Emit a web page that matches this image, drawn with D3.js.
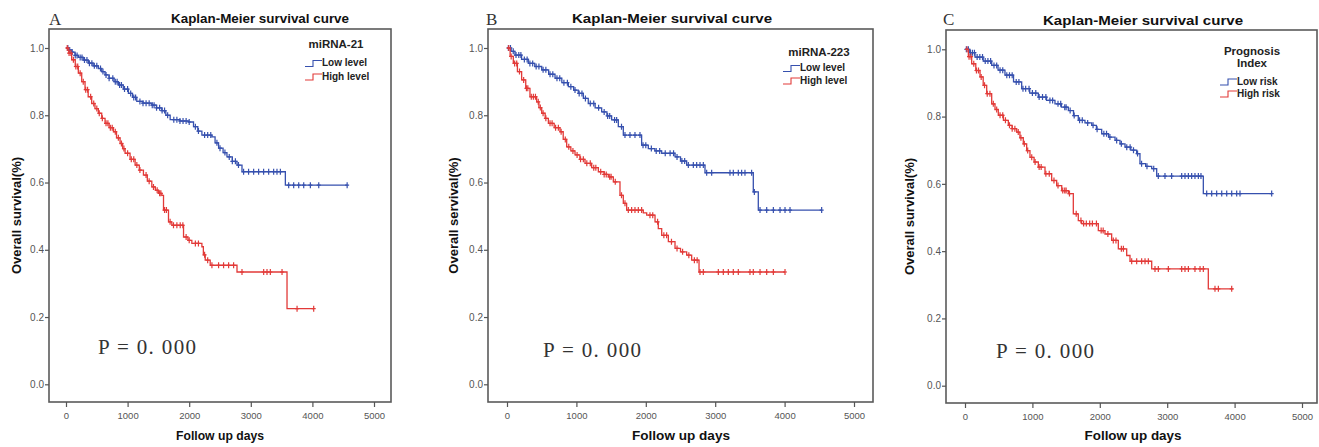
<!DOCTYPE html>
<html>
<head>
<meta charset="utf-8">
<script src="https://cdn.jsdelivr.net/npm/d3@7"></script>
<style>
  body { margin: 0; background: #fff; }
  text { font-family: "Liberation Sans", Arial, sans-serif; }
</style>
</head>
<body>
<div id="chart"></div>
<script>
// tick values shared by the three plots
const xTicks = [0, 1000, 2000, 3000, 4000, 5000];
const yTicks = [0, 0.2, 0.4, 0.6, 0.8, 1.0];

const panelLetters = ["A", "B", "C"];
const plotTitles = ["Kaplan-Meier survival curve", "Kaplan-Meier survival curve", "Kaplan-Meier survival curve"];
const legendTitles = [["miRNA-21"], ["miRNA-223"], ["Prognosis", "Index"]];
const groupNames = [["Low level", "High level"], ["Low level", "High level"], ["Low risk", "High risk"]];
const yTitles = ["Overall survival(%)", "Overall servival(%)", "Overall survival(%)"];
const xTitles = ["Follow up days", "Follow up days", "Follow up days"];
const pTexts = ["P = 0. 000", "P = 0. 000", "P = 0. 000"];

// Kaplan-Meier steps, [day, survival]
const lowA = [[0,1],[40,0.994],[90,0.988],[146,0.978],[200,0.972],[280,0.964],[363,0.955],[440,0.947],[525,0.939],[580,0.93],[634,0.92],[700,0.91],[780,0.9],[850,0.89],[930,0.878],[1013,0.865],[1080,0.853],[1149,0.841],[1250,0.836],[1393,0.83],[1470,0.822],[1556,0.814],[1620,0.8],[1691,0.787],[1850,0.783],[1989,0.78],[2070,0.766],[2140,0.753],[2206,0.741],[2369,0.736],[2420,0.718],[2477,0.702],[2550,0.689],[2613,0.676],[2700,0.663],[2776,0.652],[2857,0.632],[3561,0.592],[4564,0.592]];
const highA = [[0,1],[45,0.985],[92,0.965],[150,0.945],[200,0.925],[255,0.9],[309,0.876],[360,0.855],[417,0.835],[470,0.82],[525,0.806],[580,0.791],[634,0.776],[700,0.763],[770,0.751],[820,0.733],[878,0.716],[920,0.701],[959,0.687],[1040,0.669],[1122,0.652],[1190,0.637],[1257,0.622],[1320,0.604],[1393,0.587],[1450,0.577],[1501,0.568],[1556,0.562],[1583,0.518],[1664,0.483],[1718,0.473],[1908,0.438],[1980,0.428],[2043,0.419],[2206,0.409],[2230,0.385],[2260,0.369],[2341,0.354],[2776,0.334],[3588,0.225],[4021,0.225]];
const lowB = [[0,1],[60,0.99],[115,0.979],[210,0.966],[307,0.954],[400,0.945],[500,0.935],[600,0.922],[692,0.91],[790,0.897],[884,0.885],[960,0.875],[1027,0.865],[1100,0.85],[1171,0.835],[1270,0.822],[1364,0.81],[1440,0.798],[1508,0.786],[1604,0.766],[1676,0.741],[1940,0.711],[2036,0.701],[2130,0.694],[2229,0.687],[2421,0.676],[2500,0.664],[2589,0.652],[2853,0.629],[3549,0.572],[3621,0.518],[4534,0.518]];
const highB = [[0,1],[45,0.975],[91,0.954],[150,0.93],[211,0.905],[270,0.88],[331,0.855],[427,0.84],[460,0.823],[500,0.806],[550,0.791],[596,0.776],[680,0.763],[764,0.751],[810,0.728],[860,0.706],[920,0.694],[980,0.682],[1050,0.669],[1124,0.657],[1220,0.644],[1316,0.632],[1400,0.624],[1460,0.617],[1532,0.602],[1628,0.562],[1676,0.538],[1724,0.518],[1964,0.51],[2013,0.503],[2133,0.483],[2180,0.463],[2229,0.443],[2325,0.424],[2421,0.404],[2500,0.394],[2589,0.384],[2661,0.369],[2767,0.334],[4006,0.334]];
const lowC = [[0,1],[70,0.99],[148,0.977],[270,0.965],[396,0.952],[490,0.938],[593,0.923],[720,0.903],[841,0.883],[960,0.87],[1088,0.858],[1210,0.848],[1335,0.838],[1430,0.828],[1533,0.818],[1610,0.803],[1681,0.789],[1780,0.781],[1880,0.774],[1950,0.762],[2028,0.749],[2130,0.739],[2226,0.729],[2300,0.719],[2374,0.709],[2460,0.7],[2547,0.69],[2596,0.66],[2680,0.652],[2770,0.645],[2844,0.623],[3536,0.571],[4550,0.571]];
const highC = [[0,1],[50,0.978],[99,0.957],[160,0.937],[223,0.918],[270,0.893],[322,0.868],[396,0.838],[445,0.821],[494,0.804],[570,0.789],[643,0.774],[700,0.764],[767,0.754],[815,0.737],[865,0.719],[915,0.699],[964,0.679],[1025,0.665],[1088,0.65],[1187,0.63],[1286,0.61],[1360,0.595],[1435,0.58],[1533,0.571],[1607,0.511],[1681,0.491],[1730,0.482],[1978,0.461],[2077,0.451],[2176,0.432],[2275,0.407],[2399,0.387],[2448,0.37],[2770,0.347],[3610,0.288],[3981,0.288]];

// censored days
const censLowA = [30,60,100,150,180,230,260,300,340,380,420,460,500,560,600,650,700,760,800,830,870,900,950,1000,1050,1100,1130,1200,1250,1300,1350,1400,1430,1470,1520,1560,1600,1650,1750,1800,1850,1900,1950,2000,2100,2150,2250,2300,2350,2450,2500,2580,2650,2700,2750,2800,2883,2964,3046,3127,3208,3290,3371,3425,3480,3615,3696,3778,3859,3967,4103,4564];
const censHighA = [20,50,80,120,160,190,230,280,320,350,400,450,500,540,590,650,680,720,750,800,850,900,940,1000,1060,1100,1150,1200,1300,1350,1420,1480,1520,1540,1600,1630,1690,1745,1800,1854,1897,1950,2000,2100,2150,2250,2300,2369,2477,2558,2640,2721,2857,3209,3263,3317,3507,3751,4021];
const censLowB = [20,50,90,130,170,200,250,290,330,370,420,460,520,560,620,660,720,760,820,870,920,980,1040,1080,1130,1200,1250,1320,1400,1450,1480,1550,1580,1650,1700,1772,1844,1916,1960,2000,2080,2150,2200,2280,2350,2400,2450,2520,2560,2613,2685,2733,2781,2829,2877,2949,3213,3261,3333,3381,3429,3525,3564,3646,3742,3838,3934,4006,4078,4534];
const censHighB = [25,60,110,140,180,240,280,300,350,380,410,450,480,520,560,620,650,700,740,780,840,890,950,1010,1060,1100,1150,1200,1250,1280,1350,1400,1430,1480,1500,1560,1650,1700,1748,1796,1844,1892,1940,2060,2100,2170,2260,2300,2370,2450,2530,2620,2700,2740,2781,2829,3045,3117,3189,3261,3333,3501,3549,3646,3742,3838,4006];
const censLowC = [20,50,80,110,140,180,220,260,300,340,380,430,470,520,560,620,660,700,760,800,860,900,950,1000,1050,1100,1150,1200,1260,1300,1380,1420,1480,1500,1560,1620,1700,1740,1820,1900,1960,2060,2100,2150,2250,2320,2400,2450,2500,2560,2620,2700,2800,2868,2967,3066,3215,3264,3314,3363,3412,3462,3501,3586,3660,3734,3809,3883,3957,4031,4080,4550];
const censHighC = [30,60,90,130,170,200,240,290,330,370,420,470,520,560,600,660,700,740,790,830,880,930,990,1040,1100,1130,1200,1250,1320,1380,1450,1480,1500,1550,1650,1720,1760,1800,1850,1890,1950,2020,2050,2120,2200,2240,2320,2350,2473,2547,2621,2671,2720,2819,2868,3017,3215,3264,3314,3412,3487,3536,3709,3759,3957];

const lowSteps = [lowA, lowB, lowC];
const highSteps = [highA, highB, highC];
const lowCens = [censLowA, censLowB, censLowC];
const highCens = [censHighA, censHighB, censHighC];

const colors = ["#3650ae", "#e23a38"];

// where each plot sits on the page
const layout = [
  { frame: [49, 29, 391, 402], xr: [66, 374], yr: [384.3, 48], letterX: 49, titleX: 260, titleW: 178, titleY: 23,
    yTitleX: 17.5, xTitleX: 220, xTitleW: 88, legTitleX: 336, legTitleY: [48], iconX: 305, itemY: [63.5, 77],
    pX: 98, pY: 354 },
  { frame: [488, 29, 873, 402], xr: [507, 854], yr: [384.3, 48], letterX: 486, titleX: 672, titleW: 200, titleY: 23,
    yTitleX: 455, xTitleX: 681, xTitleW: 98, legTitleX: 819, legTitleY: [56], iconX: 783, itemY: [68.5, 81],
    pX: 543, pY: 357 },
  { frame: [946, 30, 1317, 403], xr: [965, 1302], yr: [385.7, 49.3], letterX: 943, titleX: 1143, titleW: 200, titleY: 24.5,
    yTitleX: 911, xTitleX: 1133, xTitleW: 97, legTitleX: 1252, legTitleY: [55, 66.5], iconX: 1220, itemY: [82, 94],
    pX: 996, pY: 358 }
];

const svg = d3.select("#chart").append("svg")
  .attr("width", 1319)
  .attr("height", 447);

layout.forEach((L, i) => {
  const g = svg.append("g");
  const x = d3.scaleLinear().domain([0, 5000]).range(L.xr);
  const y = d3.scaleLinear().domain([0, 1]).range(L.yr);
  const [fl, ft, fr, fb] = L.frame;

  // frame
  g.append("rect")
    .attr("x", fl).attr("y", ft)
    .attr("width", fr - fl).attr("height", fb - ft)
    .attr("fill", "none").attr("stroke", "#5a5a5a").attr("stroke-width", 1.6);

  // y axis
  const ya = g.append("g")
    .attr("transform", `translate(${fl},0)`)
    .call(d3.axisLeft(y).tickValues(yTicks).tickFormat(d3.format(".1f")).tickSize(4).tickPadding(1));
  ya.select(".domain").remove();
  ya.selectAll("line").attr("stroke", "#555").attr("stroke-width", 1.2);
  ya.selectAll("text").attr("fill", "#555").style("font-size", "10px").style("font-family", "Liberation Sans, Arial");

  // x axis
  const xa = g.append("g")
    .attr("transform", `translate(0,${fb})`)
    .call(d3.axisBottom(x).tickValues(xTicks).tickFormat(d3.format("d")).tickSize(5).tickPadding(5));
  xa.select(".domain").remove();
  xa.selectAll("line").attr("stroke", "#555").attr("stroke-width", 1.2);
  xa.selectAll("text").attr("fill", "#555").style("font-size", "9.5px").style("font-family", "Liberation Sans, Arial");

  // panel letter and title
  g.append("text")
    .attr("x", L.letterX).attr("y", 25)
    .style("font-family", "Liberation Serif, Times New Roman, serif")
    .style("font-size", "17px").attr("fill", "#333")
    .text(panelLetters[i]);

  g.append("text")
    .attr("x", L.titleX).attr("y", L.titleY)
    .attr("text-anchor", "middle")
    .attr("textLength", L.titleW).attr("lengthAdjust", "spacingAndGlyphs")
    .style("font-size", "12.5px").style("font-weight", "bold").attr("fill", "#111")
    .text(plotTitles[i]);

  // axis titles
  g.append("text")
    .attr("transform", `translate(${L.yTitleX},${(ft + fb) / 2}) rotate(-90)`)
    .attr("text-anchor", "middle").attr("dominant-baseline", "middle")
    .style("font-size", "13px").style("font-weight", "bold").attr("fill", "#111")
    .text(yTitles[i]);

  g.append("text")
    .attr("x", L.xTitleX).attr("y", 440)
    .attr("text-anchor", "middle")
    .attr("textLength", L.xTitleW).attr("lengthAdjust", "spacingAndGlyphs")
    .style("font-size", "12.5px").style("font-weight", "bold").attr("fill", "#111")
    .text(xTitles[i]);

  // survival curves
  const line = d3.line()
    .x(d => x(d[0]))
    .y(d => y(d[1]))
    .curve(d3.curveStepAfter);

  const survAt = (steps, t) => {
    const k = d3.bisector(d => d[0]).right(steps, t) - 1;
    return steps[Math.max(0, k)][1];
  };

  [[lowSteps[i], lowCens[i]], [highSteps[i], highCens[i]]].forEach(([steps, cens], s) => {
    g.append("path")
      .attr("d", line(steps))
      .attr("fill", "none")
      .attr("stroke", colors[s])
      .attr("stroke-width", 1.3);

    g.selectAll(null)
      .data(cens)
      .enter()
      .append("path")
      .attr("d", t => {
        const cx = x(t), cy = y(survAt(steps, t));
        return `M${cx},${cy - 3}V${cy + 3}M${cx - 2},${cy}H${cx + 2}`;
      })
      .attr("stroke", colors[s])
      .attr("stroke-width", 1.2);
  });

  // legend
  legendTitles[i].forEach((t, k) => {
    g.append("text")
      .attr("x", L.legTitleX).attr("y", L.legTitleY[k])
      .attr("text-anchor", "middle")
      .style("font-size", "11.5px").style("font-weight", "bold").attr("fill", "#222")
      .text(t);
  });

  groupNames[i].forEach((name, k) => {
    const iy = L.itemY[k];
    g.append("path")
      .attr("d", `M${L.iconX},${iy + 3}H${L.iconX + 8}V${iy - 3}H${L.iconX + 17}`)
      .attr("fill", "none").attr("stroke", colors[k]).attr("stroke-width", 1.1);
    g.append("text")
      .attr("x", L.iconX + 17).attr("y", iy)
      .attr("dominant-baseline", "middle")
      .style("font-size", "10px").style("font-weight", "bold").attr("fill", "#222")
      .text(name);
  });

  // p value
  g.append("text")
    .attr("x", L.pX).attr("y", L.pY)
    .attr("textLength", 98).attr("lengthAdjust", "spacing")
    .style("font-family", "Liberation Serif, Times New Roman, serif")
    .style("font-size", "21px").attr("fill", "#333")
    .text(pTexts[i]);
});
</script>
</body>
</html>
